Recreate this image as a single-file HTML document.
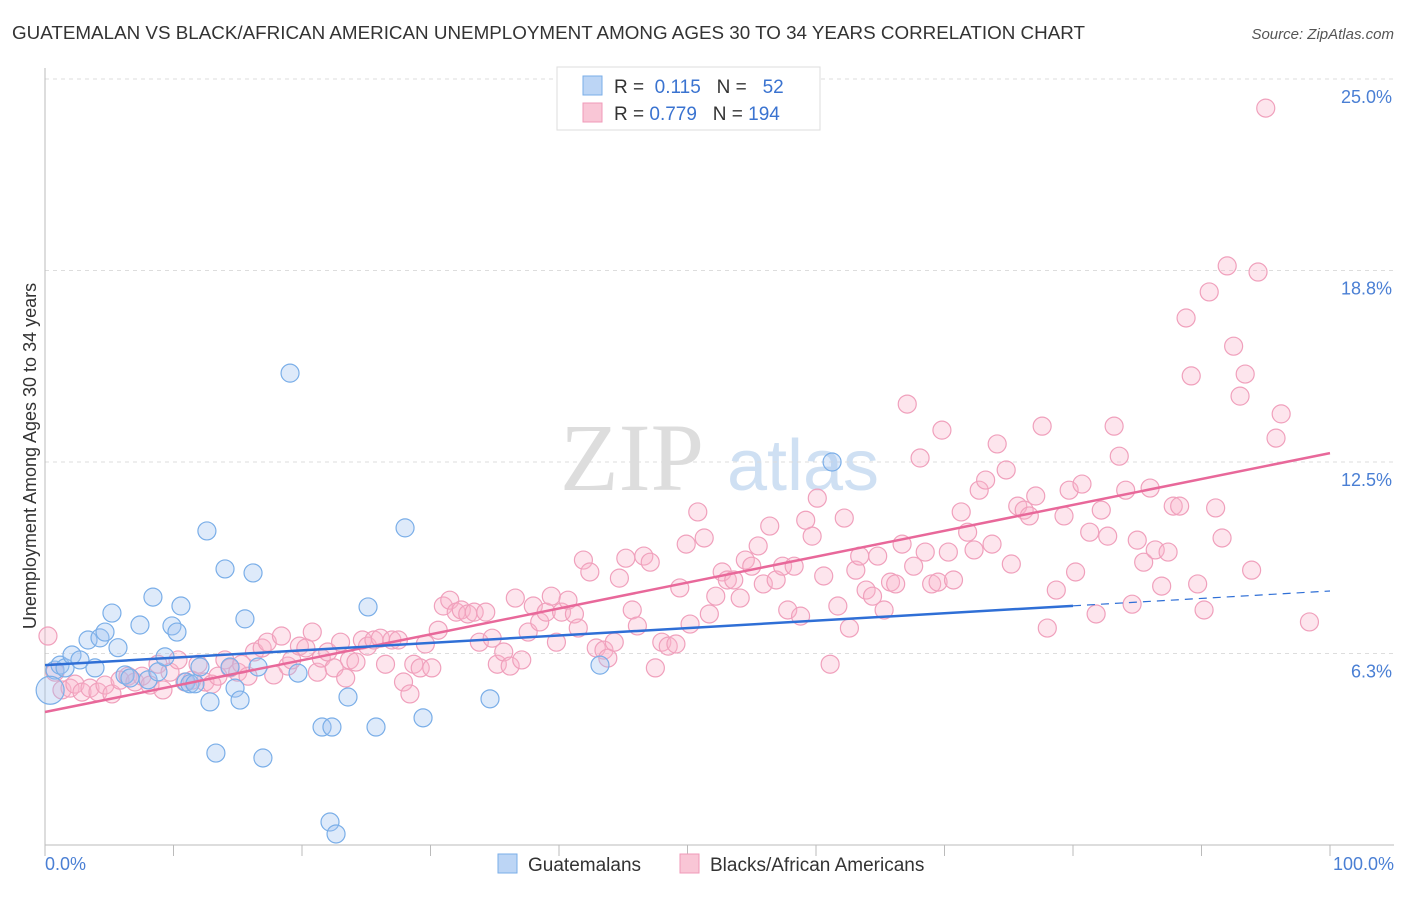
<!DOCTYPE html>
<html><head><meta charset="utf-8"><style>
body{margin:0;background:#fff;font-family:"Liberation Sans",sans-serif}
#c{position:relative;width:1406px;height:892px}
</style></head><body>
<div id="c">
<svg id="s" width="1406" height="892" font-family="Liberation Sans, sans-serif">
<text x="12" y="39" font-size="18" fill="#333" textLength="1073" lengthAdjust="spacingAndGlyphs">GUATEMALAN VS BLACK/AFRICAN AMERICAN UNEMPLOYMENT AMONG AGES 30 TO 34 YEARS CORRELATION CHART</text>
<text x="1394" y="39" font-size="15" fill="#555" text-anchor="end" font-style="italic">Source: ZipAtlas.com</text>
<text x="632" y="490" font-size="96" fill="#ddd" font-family="Liberation Serif, serif" text-anchor="middle">ZIP</text>
<text x="803" y="490" font-size="72" fill="#cfe0f3" text-anchor="middle">atlas</text>
<g id="grid"></g><g id="axes"></g><g id="pts"></g><g id="lines"></g>
<text x="36" y="456" font-size="18" fill="#333" text-anchor="middle" transform="rotate(-90 36 456)">Unemployment Among Ages 30 to 34 years</text>
<text x="45" y="870" font-size="18" fill="#4a7fd4">0.0%</text>
<text x="1394" y="870" font-size="18" fill="#4a7fd4" text-anchor="end">100.0%</text>
<g>
<rect x="557" y="67" width="263" height="63" fill="#fff" stroke="#ddd"/>
<rect x="583" y="76" width="19" height="19" fill="#bcd5f5" stroke="#7aaee8"/>
<rect x="583" y="103" width="19" height="19" fill="#f9c6d6" stroke="#f09ab8"/>
<text x="614" y="93" font-size="19" fill="#333">R = <tspan fill="#3a73d0">&#160;0.115</tspan>&#160;&#160;&#160;N = <tspan fill="#3a73d0">&#160;&#160;52</tspan></text>
<text x="614" y="120" font-size="19" fill="#333">R = <tspan fill="#3a73d0">0.779</tspan>&#160;&#160;&#160;N = <tspan fill="#3a73d0">194</tspan></text>
</g>
<g>
<rect x="498" y="854" width="19" height="19" fill="#bcd5f5" stroke="#7aaee8"/>
<text x="528" y="871" font-size="19" fill="#333">Guatemalans</text>
<rect x="680" y="854" width="19" height="19" fill="#f9c6d6" stroke="#f09ab8"/>
<text x="710" y="871" font-size="19" fill="#333">Blacks/African Americans</text>
</g>
</svg></div>
<script>
const yTicks=[6.25,12.5,18.75,25];
const yTickLabels=["6.3%","12.5%","18.8%","25.0%"];
const xTicks=[0,10,20,30,40,50,60,70,80,90,100];
const blueX=[0.78,1.17,1.56,2.1,2.72,3.35,3.89,4.28,4.67,5.21,5.68,6.23,6.61,7.39,8.02,8.4,8.79,9.34,9.88,10.27,10.58,10.97,11.28,11.67,12.06,12.6,12.84,14.01,14.4,14.79,15.18,15.56,16.19,16.58,16.96,13.3,19.07,19.69,21.56,22.33,22.18,22.65,23.58,25.14,25.76,28.02,29.42,34.63,43.19,61.25];
const blueY=[5.71,5.87,5.78,6.2,6.04,6.69,5.78,6.76,6.95,7.57,6.44,5.55,5.45,7.18,5.39,8.09,5.65,6.14,7.15,6.95,7.8,5.32,5.26,5.26,5.81,10.25,4.67,9.01,5.81,5.12,4.73,7.38,8.88,5.81,2.84,3.0,15.4,5.61,3.85,3.85,0.75,0.36,4.83,7.77,3.85,10.35,4.15,4.77,5.87,12.5];
const pinkX=[0.23,0.78,1.32,1.95,2.33,2.88,3.5,4.12,4.67,5.21,5.84,6.46,7.0,7.55,8.17,8.79,9.18,9.73,10.35,10.89,11.44,11.91,12.45,12.99,13.46,14.0,14.4,15.0,15.3,15.8,16.3,16.9,17.3,17.8,18.4,18.9,19.2,19.8,20.3,20.8,21.2,21.5,22.0,22.5,23.0,23.4,23.7,24.2,24.7,25.1,25.6,26.1,26.5,27.0,27.5,27.9,28.4,28.7,29.2,29.6,30.1,30.6,31.0,31.5,32.0,32.4,32.9,33.4,33.8,34.3,34.8,35.2,35.7,36.2,36.6,37.1,37.6,38.0,38.5,39.0,39.4,39.8,40.2,40.7,41.2,41.5,41.9,42.4,42.9,43.5,43.8,44.3,44.7,45.2,45.7,46.1,46.6,47.1,47.5,48.0,48.5,49.1,49.4,49.9,50.2,50.8,51.3,51.7,52.2,52.7,53.1,53.6,54.1,54.5,55.0,55.5,55.9,56.4,56.9,57.4,57.8,58.3,58.8,59.2,59.7,60.1,60.6,61.1,61.7,62.2,62.6,63.1,63.4,63.9,64.4,64.8,65.3,65.8,66.2,66.7,67.1,67.6,68.1,68.5,69.0,69.5,69.8,70.3,70.7,71.3,71.8,72.3,72.7,73.2,73.7,74.1,74.8,75.2,75.7,76.2,76.6,77.1,77.6,78.0,78.7,79.3,79.7,80.2,80.7,81.3,81.8,82.2,82.7,83.2,83.6,84.1,84.6,85.0,85.5,86.0,86.4,86.9,87.4,87.8,88.3,88.8,89.2,89.7,90.2,90.6,91.1,91.6,92.0,92.5,93.0,93.4,93.9,94.4,95.0,95.8,96.2,98.4];
const pinkY=[6.82,5.64,5.06,5.12,5.25,4.99,5.12,4.99,5.22,4.93,5.38,5.51,5.32,5.51,5.22,5.9,5.06,5.64,6.04,5.32,5.38,5.9,5.32,5.25,5.51,6.04,5.78,5.64,5.9,5.51,6.3,6.43,6.62,5.55,6.82,5.84,6.04,6.49,6.43,6.95,5.64,6.1,6.3,5.78,6.62,5.45,6.04,5.97,6.69,6.49,6.69,6.75,5.9,6.69,6.69,5.32,4.93,5.9,5.78,6.56,5.78,7.01,7.8,7.99,7.6,7.67,7.54,7.6,6.62,7.6,6.75,5.9,6.3,5.84,8.06,6.04,6.95,7.8,7.28,7.6,8.12,6.62,7.6,7.99,7.54,7.08,9.3,8.91,6.43,6.36,6.1,6.62,8.71,9.36,7.67,7.15,9.43,9.23,5.78,6.62,6.49,6.56,8.39,9.82,7.21,10.87,10.02,7.54,8.12,8.91,8.65,8.65,8.06,9.3,9.1,9.76,8.52,10.41,8.65,9.1,7.67,9.1,7.47,10.6,10.08,11.32,8.78,5.9,7.8,10.67,7.08,8.97,9.43,8.32,8.12,9.43,7.67,8.58,8.52,9.82,14.39,9.1,12.63,9.56,8.52,8.58,13.54,9.56,8.65,10.87,10.21,9.63,11.58,11.91,9.82,13.09,12.24,9.17,11.06,10.93,10.74,11.39,13.67,7.08,8.32,10.74,11.58,8.91,11.78,10.21,7.54,10.93,10.08,13.67,12.69,11.58,7.86,9.95,9.23,11.65,9.63,8.45,9.56,11.06,11.06,17.2,15.31,8.52,7.67,18.05,11.0,10.02,18.9,16.28,14.65,15.37,8.97,18.7,24.05,13.28,14.07,7.28];
const blueLine=[5.87,8.29];
const blueSolidEnd=80;
const pinkLine=[4.34,12.79];
const X=v=>45+v*12.85, Y=v=>845-v*30.64;
const NS="http://www.w3.org/2000/svg";
function mk(t,a,p){const e=document.createElementNS(NS,t);for(const k in a)e.setAttribute(k,a[k]);p.appendChild(e);return e;}
const grid=document.getElementById('grid'),axes=document.getElementById('axes'),pts=document.getElementById('pts'),lines=document.getElementById('lines');
yTicks.forEach((t,i)=>{
 const g=mk('line',{x1:45,x2:1394,y1:Y(t),y2:Y(t),stroke:'#ddd','stroke-dasharray':'4 4'},grid);
 
 
 const l=mk('text',{x:1392,y:Y(t)+24,'font-size':18,fill:'#4a7fd4','text-anchor':'end'},axes);
 l.textContent=yTickLabels[i];
 
 
});
let a=mk('line',{x1:45,x2:45,y1:68,y2:845,stroke:'#bbb'},axes);


a=mk('line',{x1:45,x2:1394,y1:845,y2:845,stroke:'#bbb'},axes);


xTicks.forEach(t=>{const k=mk('line',{x1:X(t),x2:X(t),y1:845,y2:856,stroke:'#bbb'},axes);
 
 });
pinkX.forEach((x,i)=>{const c=mk('circle',{cx:X(x),cy:Y(pinkY[i]),r:9,fill:'rgba(248,180,202,0.35)',stroke:'#f0a0bc','stroke-width':1.2},pts);
 
 });
blueX.forEach((x,i)=>{const c=mk('circle',{cx:X(x),cy:Y(blueY[i]),r:9,fill:'rgba(160,196,240,0.35)',stroke:'#7aaee8','stroke-width':1.2},pts);
 
 });
const big=mk('circle',{cx:X(0.4),cy:Y(5.05),r:14,fill:'rgba(160,196,240,0.35)',stroke:'#7aaee8','stroke-width':1.2},pts);


const bv=x=>blueLine[0]+(blueLine[1]-blueLine[0])*x/100;
let ln=mk('line',{x1:X(0),y1:Y(pinkLine[0]),x2:X(100),y2:Y(pinkLine[1]),stroke:'#e8689a','stroke-width':2.5},lines);


ln=mk('line',{x1:X(0),y1:Y(bv(0)),x2:X(blueSolidEnd),y2:Y(bv(blueSolidEnd)),stroke:'#2f6fd6','stroke-width':2.5},lines);


ln=mk('line',{x1:X(blueSolidEnd),y1:Y(bv(blueSolidEnd)),x2:X(100),y2:Y(bv(100)),stroke:'#2f6fd6','stroke-width':1.2,'stroke-dasharray':'8 6'},lines);


</script>
</body></html>
